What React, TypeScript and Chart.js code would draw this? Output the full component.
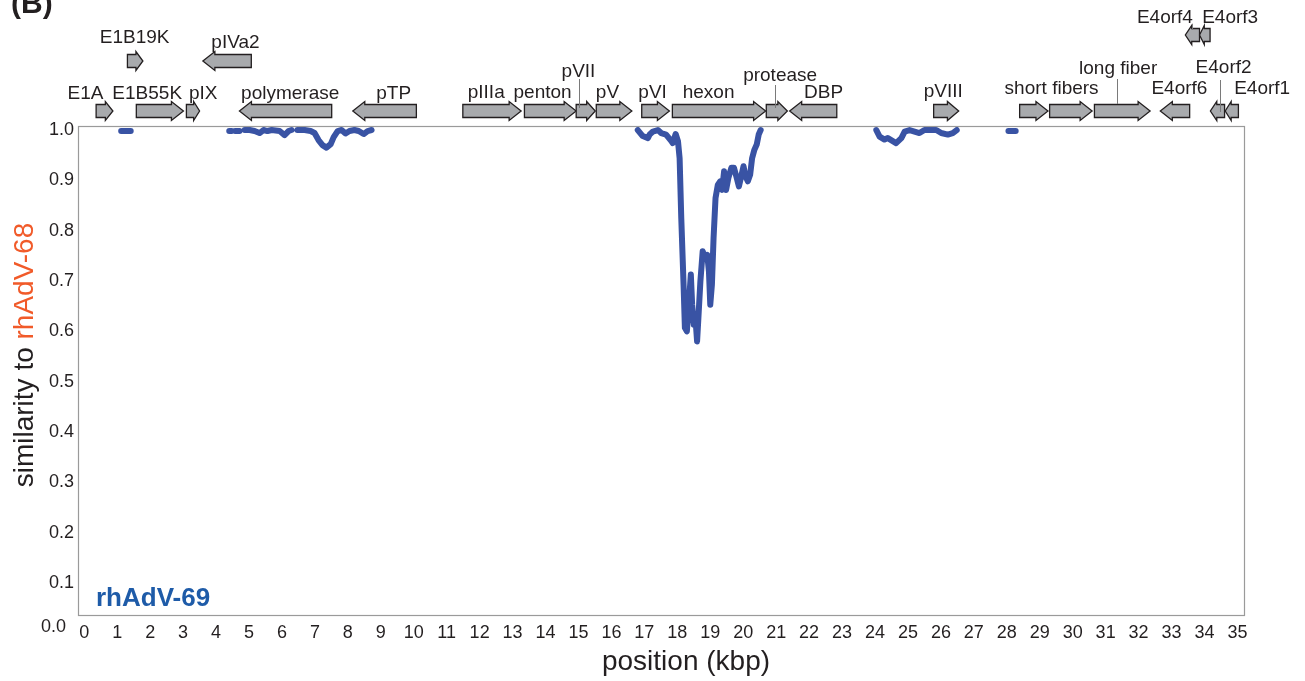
import React, { useEffect, useRef } from "react";
import Chart from "chart.js/auto";

const FONT = "'Liberation Sans', Arial, Helvetica, sans-serif";

// ---- similarity curve (null = no drop below 1.0, line not drawn) ----
const positionKbp: number[] = [
  1.12, 1.41, 1.42,
  4.40, 4.47, 4.52,
  4.58, 4.71, 4.80,
  4.87, 5.02, 5.17, 5.32, 5.44, 5.56, 5.69, 5.81, 5.93, 6.08, 6.20, 6.29, 6.38,
  6.47, 6.69, 6.87, 6.99, 7.11, 7.23, 7.35, 7.48, 7.57, 7.69, 7.81, 7.93, 8.05, 8.20, 8.33, 8.48, 8.60, 8.72, 12.0,
  16.80, 16.95, 17.11, 17.16, 17.26, 17.41, 17.51, 17.66, 17.82, 17.86, 17.95, 18.02, 18.07, 18.12, 18.19, 18.23,
  18.29, 18.35, 18.41, 18.45, 18.50, 18.55, 18.60, 18.64, 18.70, 18.77, 18.84, 18.91, 18.96, 19.00, 19.05, 19.10,
  19.16, 19.23, 19.30, 19.36, 19.42, 19.48, 19.55, 19.64, 19.72, 19.79, 19.87, 19.94, 20.01, 20.07, 20.14, 20.21,
  20.27, 20.34, 20.41, 20.47, 20.53, 22.0,
  24.04, 24.14, 24.29, 24.39, 24.54, 24.64, 24.80, 24.90, 25.05, 25.20, 25.35, 25.50, 25.65, 25.86, 26.01, 26.21,
  26.36, 26.48, 27.0,
  28.05, 28.27,
];
const similarity: (number | null)[] = [
  0.998, 0.998, null,
  0.998, 0.998, null,
  0.998, 0.998, null,
  1.0, 1.0, 0.998, 0.994, 1.0, 0.998, 1.0, 0.999, 0.998, 0.99, 0.998, 1.0, null,
  1.0, 1.0, 0.998, 0.994, 0.98, 0.97, 0.965, 0.972, 0.986, 0.998, 1.0, 0.993, 0.998, 1.0, 0.998, 0.992, 0.998, 1.0, null,
  1.0, 0.988, 0.984, 0.991, 0.997, 1.0, 0.994, 0.991, 0.978, 0.974, 0.992, 0.978, 0.944, 0.825, 0.693, 0.607,
  0.6, 0.653, 0.713, 0.653, 0.613, 0.627, 0.58, 0.627, 0.699, 0.759, 0.746, 0.752, 0.719, 0.653, 0.693, 0.785,
  0.865, 0.891, 0.898, 0.881, 0.918, 0.881, 0.905, 0.925, 0.925, 0.908, 0.888, 0.908, 0.928, 0.908, 0.898, 0.911,
  0.944, 0.961, 0.971, 0.991, 1.0, null,
  1.0, 0.987, 0.981, 0.984, 0.978, 0.974, 0.984, 0.997, 1.0, 0.997, 0.994, 1.0, 1.0, 1.0, 0.994, 0.991,
  0.994, 1.0, null,
  0.998, 0.998,
];

// ---- axes ----
const xTicks = [0, 1, 2, 3, 4, 5, 6, 7, 8, 9, 10, 11, 12, 13, 14, 15, 16, 17, 18, 19, 20, 21, 22, 23, 24, 25, 26, 27, 28, 29, 30, 31, 32, 33, 34, 35];
const yTicks = [0.1, 0.2, 0.3, 0.4, 0.5, 0.6, 0.7, 0.8, 0.9, 1.0];
const yOriginLabel = "0.0";
const xTitle = "position (kbp)";
const yTitlePrefix = "similarity to ";
const yTitleStrain = "rhAdV-68";
const queryStrain = "rhAdV-69";
const panelLetter = "(B)";

// ---- genome annotation (kbp) ----
const geneName = ["E1A", "E1B19K", "E1B55K", "pIX", "pIVa2", "polymerase", "pTP", "pIIIa", "penton", "pVII", "pV", "pVI", "hexon", "protease", "DBP", "pVIII", "short fiber 1", "short fiber 2", "long fiber", "E4orf6", "E4orf4", "E4orf3", "E4orf2", "E4orf1"];
const geneStartKbp = [0.36, 1.31, 1.58, 3.10, 3.60, 4.71, 8.15, 11.49, 13.36, 14.93, 15.54, 16.92, 17.85, 20.70, 21.41, 25.78, 28.39, 29.30, 30.66, 32.66, 33.42, 33.85, 34.18, 34.63];
const geneEndKbp = [0.87, 1.78, 3.01, 3.50, 5.07, 7.51, 10.08, 13.26, 14.93, 15.51, 16.62, 17.76, 20.68, 21.34, 22.84, 26.54, 29.25, 30.59, 32.35, 33.55, 33.85, 34.17, 34.61, 35.03];
const geneStrand = [1, 1, 1, 1, -1, -1, -1, 1, 1, 1, 1, 1, 1, 1, -1, 1, 1, 1, 1, -1, -1, -1, -1, -1];
const geneTrack = [0, 1, 0, 0, 1, 0, 0, 0, 0, 0, 0, 0, 0, 0, 0, 0, 0, 0, 0, 0, 2, 2, 0, 0];

const labelText = ["E1A", "E1B19K", "E1B55K", "pIX", "pIVa2", "polymerase", "pTP", "pIIIa", "penton", "pVII", "pV", "pVI", "hexon", "protease", "DBP", "pVIII", "short fibers", "long fiber", "E4orf6", "E4orf4", "E4orf3", "E4orf2", "E4orf1"];
const labelKbp = [0.04, 1.53, 1.91, 3.61, 4.59, 6.25, 9.39, 12.20, 13.91, 15.0, 15.88, 17.25, 18.95, 21.12, 22.44, 26.07, 29.36, 31.38, 33.24, 32.80, 34.78, 34.58, 35.75];
const leaderKbp = [15.03, 20.97, 31.34, 34.46, 33.63];

// ---- layout (pixels) ----
const labelBaselinePx = [99, 43, 99, 99, 48, 99, 99, 98, 98, 77, 98, 98, 98, 81, 98, 97, 94, 74, 94, 23, 23, 73, 94];
const leaderTopPx = [79, 85, 79, 80, 24];
const leaderBottomPx = [108, 108, 104, 112, 30];
const trackCenterPx = [111, 61, 35];

function drawArrow(ctx: CanvasRenderingContext2D, xa: number, xb: number, yc: number, dir: number) {
  const len = xb - xa;
  const head = Math.min(12, len * 0.45);
  const bh = 6.5;
  const hh = 9.5;
  ctx.beginPath();
  if (dir > 0) {
    ctx.moveTo(xa, yc - bh);
    ctx.lineTo(xb - head, yc - bh);
    ctx.lineTo(xb - head, yc - hh);
    ctx.lineTo(xb, yc);
    ctx.lineTo(xb - head, yc + hh);
    ctx.lineTo(xb - head, yc + bh);
    ctx.lineTo(xa, yc + bh);
  } else {
    ctx.moveTo(xb, yc - bh);
    ctx.lineTo(xa + head, yc - bh);
    ctx.lineTo(xa + head, yc - hh);
    ctx.lineTo(xa, yc);
    ctx.lineTo(xa + head, yc + hh);
    ctx.lineTo(xa + head, yc + bh);
    ctx.lineTo(xb, yc + bh);
  }
  ctx.closePath();
  ctx.fillStyle = "#A8AAAD";
  ctx.fill();
  ctx.lineWidth = 1.3;
  ctx.strokeStyle = "#231F20";
  ctx.lineJoin = "miter";
  ctx.stroke();
}

export default function App() {
  const ref = useRef<HTMLCanvasElement>(null);

  useEffect(() => {
    const canvas = ref.current;
    if (!canvas) return;

    const points = positionKbp.map((x, i) => ({ x, y: similarity[i] }));

    const decor = {
      id: "decor",
      afterDraw(chart: any) {
        const ctx: CanvasRenderingContext2D = chart.ctx;
        const xs = chart.scales.x;
        const { left, right, top, bottom } = chart.chartArea;
        ctx.save();

        // frame
        ctx.strokeStyle = "#9A9A9A";
        ctx.lineWidth = 1.2;
        ctx.strokeRect(left + 0.5, top + 0.5, right - left - 1, bottom - top - 1);

        // origin label
        ctx.fillStyle = "#231F20";
        ctx.font = `18px ${FONT}`;
        ctx.textAlign = "right";
        ctx.textBaseline = "middle";
        ctx.fillText(yOriginLabel, 66, 627);

        // gene arrows
        for (let i = 0; i < geneName.length; i++) {
          const xa = xs.getPixelForValue(geneStartKbp[i]);
          const xb = xs.getPixelForValue(geneEndKbp[i]);
          drawArrow(ctx, xa, xb, trackCenterPx[geneTrack[i]], geneStrand[i]);
        }

        // leader lines
        ctx.strokeStyle = "#7A7A7A";
        ctx.lineWidth = 1;
        for (let i = 0; i < leaderKbp.length; i++) {
          const x = Math.round(xs.getPixelForValue(leaderKbp[i])) + 0.5;
          ctx.beginPath();
          ctx.moveTo(x, leaderTopPx[i]);
          ctx.lineTo(x, leaderBottomPx[i]);
          ctx.stroke();
        }

        // gene labels
        ctx.fillStyle = "#231F20";
        ctx.font = `19px ${FONT}`;
        ctx.textAlign = "center";
        ctx.textBaseline = "alphabetic";
        for (let i = 0; i < labelText.length; i++) {
          ctx.fillText(labelText[i], xs.getPixelForValue(labelKbp[i]), labelBaselinePx[i]);
        }

        // panel letter
        ctx.font = `bold 30px ${FONT}`;
        ctx.textAlign = "left";
        ctx.fillText(panelLetter, 11, 13);

        // query strain tag
        ctx.font = `bold 26px ${FONT}`;
        ctx.fillStyle = "#1E5BA8";
        ctx.fillText(queryStrain, 96, 606);

        // x title
        ctx.font = `28px ${FONT}`;
        ctx.fillStyle = "#231F20";
        ctx.textAlign = "center";
        ctx.fillText(xTitle, 686, 670);

        // y title (two colours, rotated)
        ctx.translate(33, 355);
        ctx.rotate(-Math.PI / 2);
        ctx.font = `28px ${FONT}`;
        ctx.textAlign = "left";
        const w1 = ctx.measureText(yTitlePrefix).width;
        const w2 = ctx.measureText(yTitleStrain).width;
        const start = -(w1 + w2) / 2;
        ctx.fillStyle = "#231F20";
        ctx.fillText(yTitlePrefix, start, 0);
        ctx.fillStyle = "#F15A29";
        ctx.fillText(yTitleStrain, start + w1, 0);

        ctx.restore();
      },
    };

    const chart = new Chart(canvas, {
      type: "line",
      data: {
        datasets: [
          {
            data: points as any,
            borderColor: "#3953A4",
            borderWidth: 6,
            pointRadius: 0,
            pointHoverRadius: 0,
            spanGaps: false,
            tension: 0,
            borderJoinStyle: "round",
            borderCapStyle: "round",
            fill: false,
          },
        ],
      },
      options: {
        responsive: false,
        animation: false,
        devicePixelRatio: 1,
        events: [],
        layout: { padding: { left: 0, right: 60, top: 126, bottom: 0 } },
        plugins: { legend: { display: false }, tooltip: { enabled: false } },
        scales: {
          x: {
            type: "linear",
            min: -0.19,
            max: 35.23,
            grid: { display: false, drawTicks: false },
            border: { display: false },
            ticks: {
              font: { family: FONT, size: 18 },
              color: "#231F20",
              padding: 6,
              autoSkip: false,
              maxRotation: 0,
              callback: (v: any) => String(v),
            },
            afterBuildTicks: (s: any) => {
              s.ticks = xTicks.map((v) => ({ value: v }));
            },
            afterFit: (s: any) => {
              s.height = 65;
            },
          },
          y: {
            type: "linear",
            min: 0.0344,
            max: 1.008,
            grid: { display: false, drawTicks: false },
            border: { display: false },
            ticks: {
              font: { family: FONT, size: 18 },
              color: "#231F20",
              padding: 4,
              autoSkip: false,
              callback: (v: any) => Number(v).toFixed(1),
            },
            afterBuildTicks: (s: any) => {
              s.ticks = yTicks.map((v) => ({ value: v }));
            },
            afterFit: (s: any) => {
              s.width = 78;
            },
          },
        },
      },
      plugins: [decor],
    });

    return () => chart.destroy();
  }, []);

  return (
    <div style={{ position: "absolute", left: 0, top: 0, width: 1305, height: 681, background: "#fff" }}>
      <canvas ref={ref} width={1305} height={681} style={{ display: "block" }} />
    </div>
  );
}
